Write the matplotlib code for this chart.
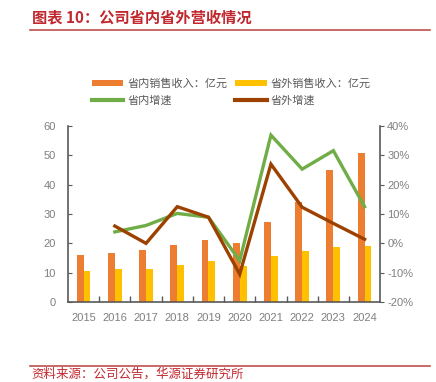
import matplotlib
matplotlib.use("Agg")
import matplotlib.pyplot as plt
import numpy as np
from matplotlib.ticker import FuncFormatter, MultipleLocator

plt.rcParams['font.family'] = ['Liberation Sans', 'Noto Sans CJK SC', 'DejaVu Sans']

years = ['2015', '2016', '2017', '2018', '2019', '2020', '2021', '2022', '2023', '2024']
inner_rev = [15.9, 16.6, 17.7, 19.4, 21.1, 20.0, 27.2, 34.2, 45.0, 50.7]
outer_rev = [10.7, 11.2, 11.2, 12.7, 13.9, 12.4, 15.8, 17.5, 18.7, 19.1]
growth_years = years[1:]
inner_growth = [3.9, 6.1, 10.2, 8.9, -5.9, 36.9, 25.3, 31.6, 12.5]
outer_growth = [5.9, 0.0, 12.5, 8.9, -10.5, 27.0, 12.3, 6.8, 1.4]

c_orange = '#ed7d31'
c_yellow = '#ffc000'
c_green = '#70ad47'
c_brown = '#9c4100'
c_red = '#c0282e'
c_axis = '#595959'
c_text = '#7f7f7f'

fig = plt.figure(figsize=(4.36, 3.82), dpi=100)
ax = fig.add_axes([0.156, 0.2094, 0.716, 0.4607])
ax2 = ax.twinx()

x = np.arange(len(years))
w = 0.22
b1 = ax.bar(x - w / 2, inner_rev, w, color=c_orange, zorder=2)
b2 = ax.bar(x + w / 2, outer_rev, w, color=c_yellow, zorder=2)

gx = np.arange(1, len(years))
l1, = ax2.plot(gx, inner_growth, color=c_green, lw=2.4, solid_joinstyle='miter')
l2, = ax2.plot(gx, outer_growth, color=c_brown, lw=2.4, solid_joinstyle='miter')

ax.set_xlim(-0.5, len(years) - 0.5)
ax.set_ylim(0, 60)
ax.yaxis.set_major_locator(MultipleLocator(10))
ax2.set_ylim(-20, 40)
ax2.yaxis.set_major_locator(MultipleLocator(10))
ax2.yaxis.set_major_formatter(FuncFormatter(lambda v, p: f'{v:.0f}%'))

ax.set_xticks(x)
ax.set_xticklabels(years)
ax.set_xticks(np.arange(0.5, len(years) - 0.5, 1), minor=True)
ax.tick_params(axis='x', which='major', length=0, labelsize=8, colors=c_text, pad=8)
ax.tick_params(axis='x', which='minor', length=4, direction='in', color=c_axis, width=1)
ax.tick_params(axis='y', length=3, direction='in', color=c_axis, labelsize=8, labelcolor=c_text, pad=9)
ax2.tick_params(axis='y', length=3, direction='out', color=c_axis, labelsize=8, labelcolor=c_text, pad=2)

for a in (ax, ax2):
    for s in a.spines.values():
        s.set_visible(False)
ax.spines['left'].set_visible(True)
ax.spines['bottom'].set_visible(True)
ax2.spines['right'].set_visible(True)
for s in (ax.spines['left'], ax.spines['bottom'], ax2.spines['right']):
    s.set_color(c_axis)
    s.set_linewidth(1.2)

# ncol=2 fills by column, so order handles as orange, green, yellow, brown
leg = fig.legend([b1, l1, b2, l2], ['省内销售收入：亿元', '省内增速', '省外销售收入：亿元', '省外增速'],
                 loc='upper left', bbox_to_anchor=(0.211, 0.795), ncol=2, frameon=False,
                 handlelength=2.8, handleheight=0.5, columnspacing=0.7,
                 labelspacing=0.6, handletextpad=0.4, borderpad=0, borderaxespad=0,
                 prop={'family': ['Noto Sans CJK SC'], 'size': 8})
for t in leg.get_texts():
    t.set_color(c_axis)
for h in leg.legend_handles[1::2]:
    h.set_linewidth(3)

fig.text(0.073, 0.955, '图表 10：公司省内省外营收情况', color=c_red, fontsize=11, fontweight='bold',
         family=['Noto Sans CJK SC'], va='center', ha='left')
fig.add_artist(plt.Line2D([0.069, 0.986], [0.922, 0.922], color='#c0504d', lw=1.2))
fig.add_artist(plt.Line2D([0.069, 0.986], [0.041, 0.041], color='#c0504d', lw=1.2))
fig.text(0.073, 0.003, '资料来源：公司公告，华源证券研究所', color=c_red, fontsize=9,
         family=['Noto Sans CJK SC'], va='bottom', ha='left')

fig.savefig('out.png', dpi=100)
